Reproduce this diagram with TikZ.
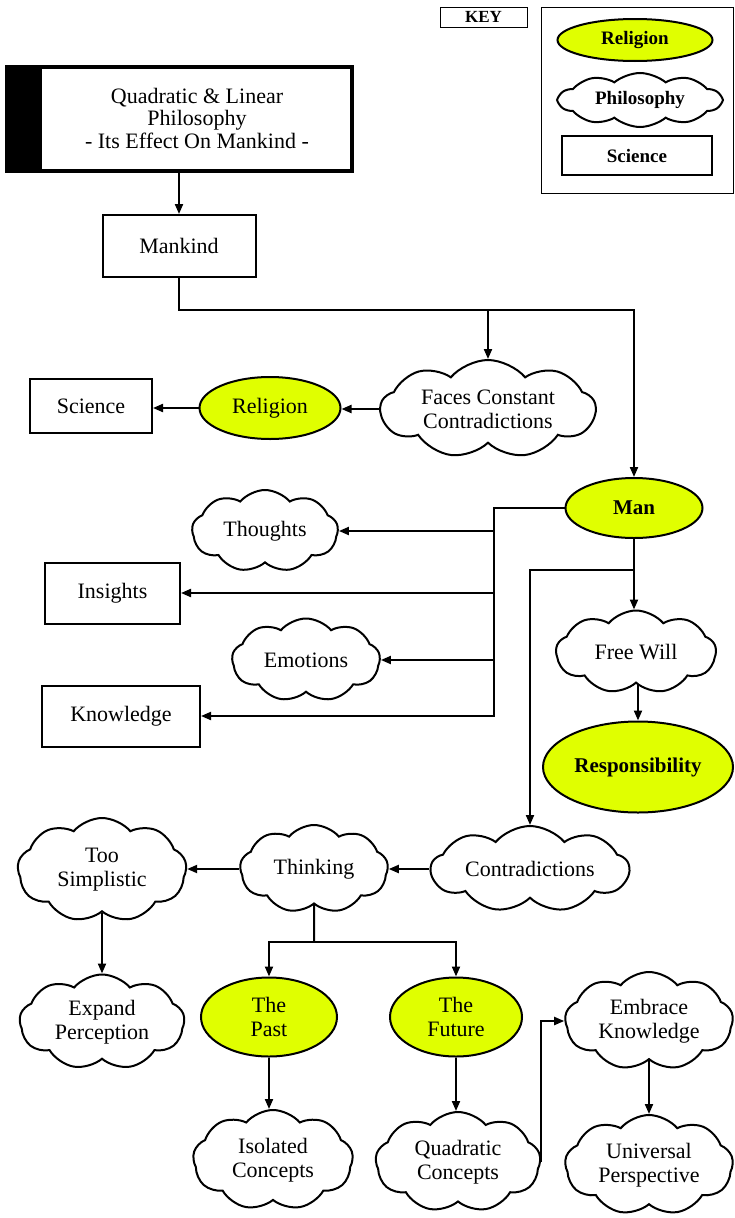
\documentclass[tikz,border=0pt]{standalone}
\usepackage{fontspec}
\setmainfont{Liberation Serif}
\usetikzlibrary{shapes.geometric,shapes.symbols,arrows.meta}
\definecolor{relyellow}{RGB}{224,255,0}
\begin{document}
\begin{tikzpicture}[x=1pt,y=-1pt,
  every node/.style={font=\fontsize{22}{24}\selectfont, align=center},
  fb/.style={font=\fontsize{21}{24}\selectfont\bfseries},
  fk/.style={font=\fontsize{19}{22}\selectfont\bfseries},
  sz/.style 2 args={minimum width=#1pt, minimum height=#2pt},
  box/.style={draw, line width=2pt, rectangle, inner sep=0pt},
  rel/.style={ellipse, draw, line width=2pt, fill=relyellow, inner sep=0pt},
  phil/.style={cloud, cloud puffs=9, cloud puff arc=100, cloud ignores aspect, draw, line width=2pt, inner sep=0pt},
  arr/.style={-{Triangle[length=10pt,width=8pt]}, line width=2pt},
  con/.style={line width=2pt}]
\useasboundingbox (0,0) rectangle (734,1218);

% Key
\node[box, line width=1pt, sz={87}{20}, font=\fontsize{17}{18}\selectfont\bfseries] (keylabel) at (483.5,17) {KEY};
\node[draw, line width=1pt, sz={192}{186}] (keyframe) at (637,100) {};
\node[rel, fk, sz={155}{42}] (keyrel) at (635,40) {Religion};
\node[phil, fk, cloud puffs=10, cloud puff arc=80, sz={162}{54}] (keyphil) at (640,100) {Philosophy};
\node[box, fk, sz={150}{39}] (keysci) at (637,155.5) {Science};

% Title
\node[box, line width=4pt, sz={345}{104}] (title) at (179,119) {};
\coordinate (bandx) at (42,0);
\fill (title.north west) rectangle (title.south west -| bandx);
\node[font=\fontsize{22}{22.5}\selectfont] (titletext) at (197,118) {Quadratic \& Linear\\Philosophy\\- Its Effect On Mankind -};

\node[box, sz={153}{62}] (mankind) at (179,246) {Mankind};

% Upper row
\node[phil, sz={215}{98}] (faces) at (488,409) {Faces Constant\\Contradictions};
\node[rel, sz={141}{62}] (religion) at (270,408) {Religion};
\node[box, sz={122}{54}] (science) at (91,406) {Science};

% Man branch
\node[rel, fb, sz={137}{60}] (man) at (634,508) {Man};
\node[phil, sz={146}{82}] (thoughts) at (265,531) {Thoughts};
\node[box, sz={135}{61}] (insights) at (112.5,593) {Insights};
\node[phil, sz={148}{83}] (emotions) at (306,660) {Emotions};
\node[box, sz={158}{61}] (knowledge) at (121,716) {Knowledge};
\node[phil, sz={160}{83}] (freewill) at (636,652) {Free Will};
\node[rel, fb, sz={190}{91}] (resp) at (638,767) {Responsibility};

% Lower part
\node[phil, sz={198}{86}] (contra) at (530,869) {Contradictions};
\node[phil, sz={148}{88}] (thinking) at (314,869) {Thinking};
\node[phil, sz={169}{104}] (toosimp) at (102,870) {Too\\Simplistic};
\node[phil, sz={165}{95}] (expand) at (102,1022) {Expand\\Perception};
\node[rel, sz={136}{79}] (past) at (269,1017) {The\\Past};
\node[rel, sz={132}{79}] (future) at (456,1017) {The\\Future};
\node[phil, sz={168}{98}] (embrace) at (649,1021) {Embrace\\Knowledge};
\node[phil, sz={160}{100}] (isolated) at (273,1160) {Isolated\\Concepts};
\node[phil, sz={165}{100}] (quad) at (458,1162) {Quadratic\\Concepts};
\node[phil, sz={168}{100}] (universal) at (649,1165) {Universal\\Perspective};

% Connectors
\draw[arr] (title.south) -- (mankind.north);
\coordinate (j1) at (179,310);
\draw[arr] (mankind.south) -- (j1) -| (man.north);
\draw[arr] (faces.north |- j1) -- (faces.north);
\draw[arr] (faces.west) -- (faces.west -| religion.east);
\draw[arr] (religion.west) -- (religion.west -| science.east);

\coordinate (bus) at (494,0);
\draw[arr] (man.west) -| (bus |- knowledge.east) -- (knowledge.east);
\draw[arr] (bus |- thoughts.east) -- (thoughts.east);
\draw[arr] (bus |- insights.east) -- (insights.east);
\draw[arr] (bus |- emotions.east) -- (emotions.east);

\draw[arr] (man.south) -- (man.south |- freewill.north);
\coordinate (j2) at (634,570);
\draw[arr] (j2) -| (contra.north);
\draw[arr] (freewill.south -| resp.north) -- (resp.north);

\draw[arr] (contra.west) -- (contra.west -| thinking.east);
\draw[arr] (thinking.west) -- (thinking.west -| toosimp.east);
\draw[arr] (toosimp.south) -- (toosimp.south |- expand.north);
\coordinate (j3) at (314,942);
\draw[con] (thinking.south) -- (j3);
\draw[arr] (j3) -| (past.north);
\draw[arr] (j3) -| (future.north);
\draw[arr] (past.south) -- (past.south |- isolated.north);
\draw[arr] (future.south) -- (future.south |- quad.north);
\draw[arr] (quad.east) |- (embrace.west);
\draw[arr] (embrace.south) -- (embrace.south |- universal.north);
\end{tikzpicture}
\end{document}
